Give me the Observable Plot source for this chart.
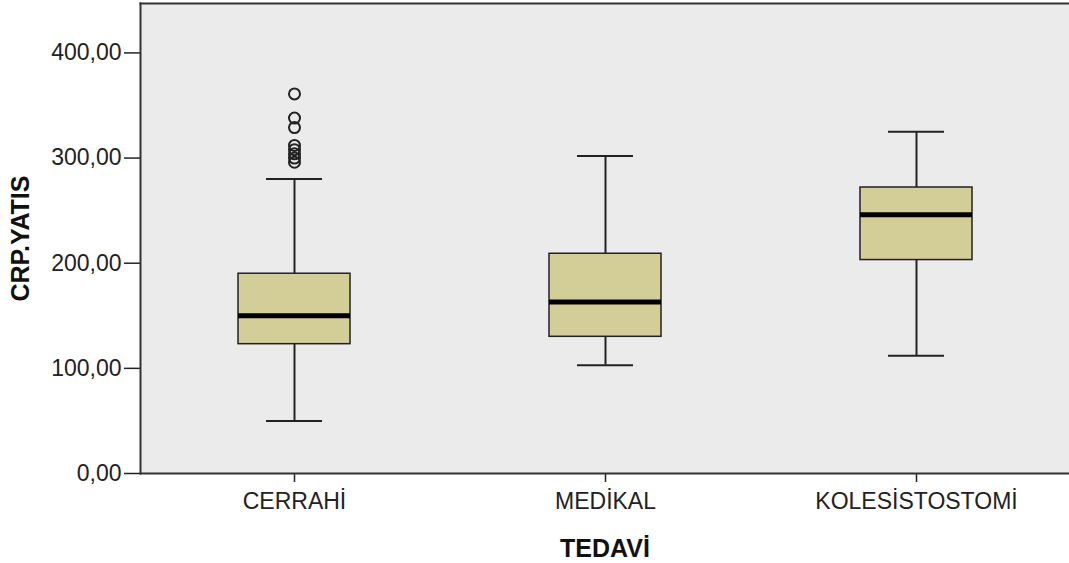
<!DOCTYPE html>
<html>
<head>
<meta charset="utf-8">
<script src="https://cdn.jsdelivr.net/npm/d3@7"></script>
<script src="https://cdn.jsdelivr.net/npm/@observablehq/plot@0.6"></script>
<style>
  html, body { margin: 0; padding: 0; background: #ffffff; }
</style>
</head>
<body>
<div id="chart"></div>
<script>
const categories = ["CERRAHİ", "MEDİKAL", "KOLESİSTOSTOMİ"];
const whiskerLow = [50, 103, 112];
const q1 = [123, 130, 203];
const median = [150, 163, 246];
const q3 = [190, 209, 272];
const whiskerHigh = [280, 302, 325];
const outlierCategory = ["CERRAHİ", "CERRAHİ", "CERRAHİ", "CERRAHİ", "CERRAHİ", "CERRAHİ", "CERRAHİ", "CERRAHİ"];
const outlierValues = [361, 338, 329, 312, 308, 304, 300, 296];
const yTicks = [0, 100, 200, 300, 400];

const boxes = categories.map((c, i) => ({
  cat: c, lo: whiskerLow[i], q1: q1[i], med: median[i], q3: q3[i], hi: whiskerHigh[i]
}));
const outliers = outlierValues.map((v, i) => ({cat: outlierCategory[i], v}));

const fmt = d => d3.format(".2f")(d).replace(".", ",");
const font = "'Liberation Sans', Arial, sans-serif";

const chart = Plot.plot({
  width: 1069,
  height: 563,
  marginTop: 3,
  marginLeft: 140,
  marginRight: 0,
  marginBottom: 90,
  style: {fontFamily: font, background: "#ffffff", color: "#222"},
  x: {type: "band", domain: categories, range: [138, 1072], paddingInner: 0.64, paddingOuter: 0.32},
  y: {domain: [0, 447]},
  marks: [
    Plot.frame({fill: "#ebebeb"}),
    Plot.ruleX(boxes, {x: "cat", y1: "lo", y2: "hi", stroke: "#222", strokeWidth: 2}),
    Plot.tickY(boxes, {x: "cat", y: "lo", insetLeft: 28, insetRight: 28, stroke: "#222", strokeWidth: 2}),
    Plot.tickY(boxes, {x: "cat", y: "hi", insetLeft: 28, insetRight: 28, stroke: "#222", strokeWidth: 2}),
    Plot.barY(boxes, {x: "cat", y1: "q1", y2: "q3", fill: "#d3cd98", stroke: "#222", strokeWidth: 1.5}),
    Plot.tickY(boxes, {x: "cat", y: "med", stroke: "#000", strokeWidth: 5}),
    Plot.dot(outliers, {x: "cat", y: "v", r: 5.5, stroke: "#222", strokeWidth: 2, fill: "none"}),
    Plot.axisY({ticks: yTicks, tickFormat: fmt, tickSize: 16, tickPadding: 3, fontSize: 23, stroke: "#222", strokeWidth: 1.5, label: null, color: "#222"}),
    Plot.axisX({tickSize: 9, tickPadding: 10, fontSize: 23, stroke: "#222", strokeWidth: 1.5, label: null, color: "#222"}),
    Plot.frame({anchor: "left", stroke: "#333", strokeWidth: 2}),
    Plot.frame({anchor: "top", stroke: "#333", strokeWidth: 2}),
    Plot.frame({anchor: "bottom", stroke: "#333", strokeWidth: 2}),
    Plot.text(["CRP.YATIS"], {frameAnchor: "left", rotate: -90, dx: -120, textAnchor: "middle", fontWeight: "bold", fontSize: 25, fill: "#111"}),
    Plot.text(["TEDAVİ"], {frameAnchor: "bottom", dy: 75, lineAnchor: "middle", fontWeight: "bold", fontSize: 25, fill: "#111"})
  ]
});
document.getElementById("chart").appendChild(chart);
</script>
</body>
</html>
